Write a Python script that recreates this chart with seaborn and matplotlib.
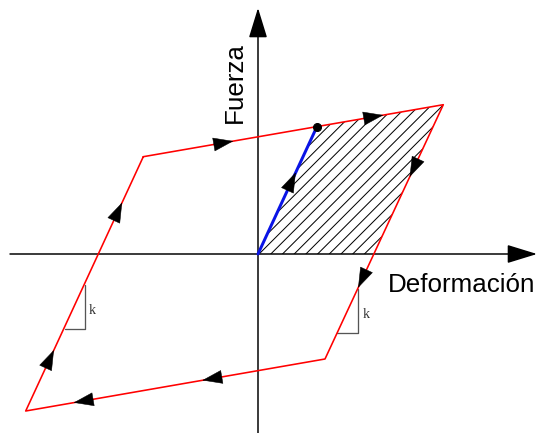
import matplotlib
matplotlib.use("Agg")
import matplotlib.pyplot as plt
import numpy as np
import seaborn as sns
from matplotlib.patches import Polygon

loop_x = [-114.7, 185.3, 67.0, -232.3, -114.7]
loop_y = [97.3, 149.3, -105.0, -157.0, 97.3]

blue_x = [0.0, 59.0]
blue_y = [0.0, 127.5]

hatch_x = [0.0, 59.0, 185.3, 115.6]
hatch_y = [0.0, 127.5, 149.3, 0.0]

# arrows on the loop: (segment start index, fraction along the segment)
loop_arrows = [(0, 0.30), (0, 0.80), (1, 0.284), (1, 0.72),
               (2, 0.41), (2, 0.84), (3, 0.24), (3, 0.82)]
blue_arrow = 0.64

k_right_x = [99.7, 99.7, 79.3]
k_right_y = [-35.0, -78.7, -78.7]
k_left_x = [-173.0, -173.0, -193.0]
k_left_y = [-31.0, -75.0, -75.0]

sns.set_style("white")

fig = plt.figure(figsize=(538 / 72, 433 / 72), dpi=72)
ax = fig.add_axes([0, 0, 1, 1])
ax.set_xlim(-258, 280)
ax.set_ylim(-179, 254)
ax.axis("off")

# axes with arrowheads
arrow_style = "-|>,head_length=2.6,head_width=0.8"
ax.annotate("", xy=(279, 0), xytext=(-248, 0),
            arrowprops=dict(arrowstyle=arrow_style, mutation_scale=10,
                            color="black", lw=1.5, shrinkA=0, shrinkB=0))
ax.annotate("", xy=(0, 246), xytext=(0, -179),
            arrowprops=dict(arrowstyle=arrow_style, mutation_scale=10,
                            color="black", lw=1.5, shrinkA=0, shrinkB=0))

# hatched area: 45 degree lines clipped to the polygon
poly = Polygon(np.column_stack([hatch_x, hatch_y]), closed=True,
               facecolor="none", edgecolor="none")
ax.add_patch(poly)
xs = np.array([-50.0, 250.0])
for c in np.arange(-200, 200, 11.7):
    ln, = ax.plot(xs, xs + c, color="black", lw=1.0, zorder=1)
    ln.set_clip_path(poly)

# loop and loading line
sns.lineplot(x=loop_x, y=loop_y, sort=False, estimator=None,
             color="red", linewidth=1.6, ax=ax, zorder=3)
sns.lineplot(x=blue_x, y=blue_y, sort=False, estimator=None,
             color="#0a14e6", linewidth=3, ax=ax, zorder=4)
ax.plot(blue_x[-1], blue_y[-1], "o", color="black", markersize=8, zorder=5)


def draw_head(x0, y0, x1, y1, t):
    d = np.array([x1 - x0, y1 - y0])
    u = d / np.hypot(*d)
    tip = np.array([x0, y0]) + t * d
    tail = tip - 19 * u
    ax.annotate("", xy=tip, xytext=tail,
                arrowprops=dict(arrowstyle="-|>,head_length=1.9,head_width=0.65",
                                mutation_scale=10, color="black", lw=0.5,
                                shrinkA=0, shrinkB=0), zorder=6)


for i, t in loop_arrows:
    draw_head(loop_x[i], loop_y[i], loop_x[i + 1], loop_y[i + 1], t)
draw_head(blue_x[0], blue_y[0], blue_x[1], blue_y[1], blue_arrow)

# slope triangles
ax.plot(k_right_x, k_right_y, color="#555555", lw=1.3, zorder=2)
ax.plot(k_left_x, k_left_y, color="#555555", lw=1.3, zorder=2)
ax.text(108, -61, "k", family="Liberation Serif", fontsize=14,
        color="#333333", ha="center", va="center")
ax.text(-165.3, -56.7, "k", family="Liberation Serif", fontsize=14,
        color="#333333", ha="center", va="center")

ax.text(130, -37.7, "Deformación", family="Liberation Sans", fontsize=26,
        color="black", ha="left", va="baseline")
ax.text(-23, 171, "Fuerza", family="Liberation Sans", fontsize=26,
        color="black", rotation=90, ha="center", va="center")

fig.savefig("out.png", dpi=72)
